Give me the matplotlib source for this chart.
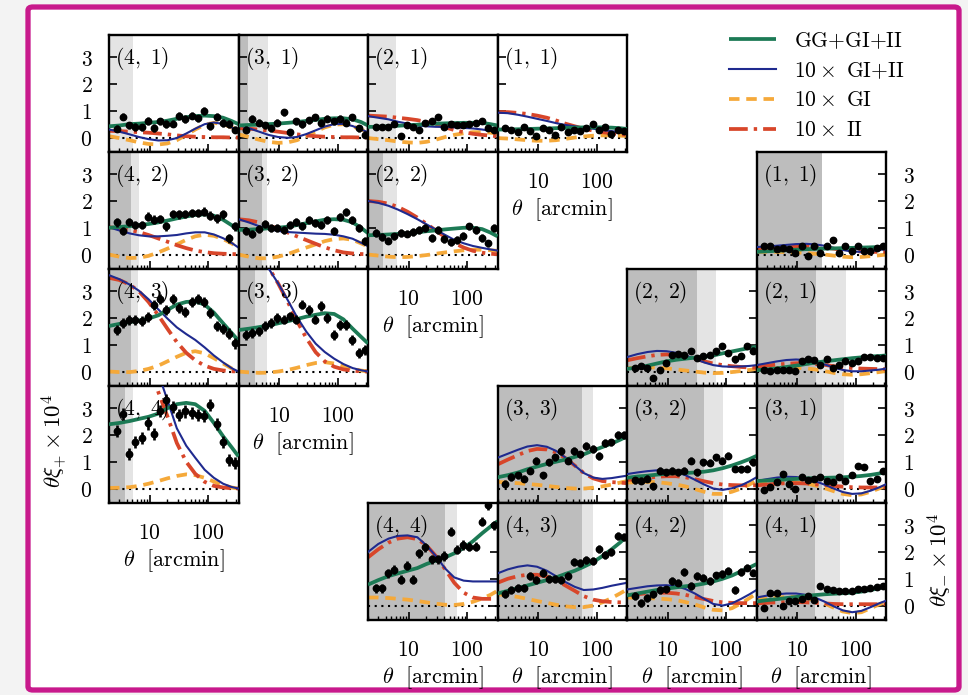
import matplotlib
matplotlib.use("Agg")
import matplotlib.pyplot as plt
from matplotlib.ticker import FixedLocator, FixedFormatter, NullFormatter, NullLocator
from matplotlib.lines import Line2D
from matplotlib.patches import FancyBboxPatch

plt.rcParams["mathtext.fontset"] = "cm"
plt.rcParams["font.family"] = ["DejaVu Serif"]

# angular bins of the measured correlation functions [arcmin]
THETA = [2.69, 3.44, 4.41, 5.64, 7.21, 9.23, 11.8, 15.1, 19.3, 24.7,
         31.6, 40.5, 51.8, 66.2, 84.7, 108, 139, 177, 227, 290]
# angular nodes of the model predictions [arcmin]
MODEL_THETA = [2.0, 3.0, 4.5, 6.5, 9.5, 14, 20, 29, 42, 60, 87, 125, 180, 250, 330]

# ---------------- xi_plus ----------------
XIP_PAIRS = [(4, 1), (3, 1), (2, 1), (1, 1), (4, 2), (3, 2), (2, 2), (4, 3), (3, 3), (4, 4)]

XIP_DATA = [
    [0.33, 0.78, 0.45, 0.4, 0.38, 0.62, 0.35, 0.6, 0.5, 0.52, 0.8, 0.7, 0.82, 0.72, 1.0, 0.42, 0.78, 0.55, 0.5, 0.3],
    [0.3, 0.7, 0.55, 0.45, 0.35, 0.55, 0.95, 0.2, 0.6, 0.5, 0.65, 0.75, 0.55, 0.7, 0.6, 0.7, 0.55, 0.75, 0.35, 0.1],
    [0.4, 0.4, 0.4, 0.5, 0.05, 0.45, 0.4, 0.3, 0.55, 0.6, 0.75, 0.4, 0.5, 0.45, 0.45, 0.5, 0.55, 0.6, 0.35, 0.3],
    [0.35, 0.3, 0.2, 0.4, 0.25, 0.05, 0.35, 0.3, 0.1, 0.4, 0.2, 0.3, 0.25, 0.35, 0.5, 0.3, 0.4, 0.15, 0.3, 0.25],
    [1.2, 0.88, 1.22, 1.1, 1.1, 1.42, 1.3, 1.32, 1.05, 1.52, 1.5, 1.52, 1.55, 1.55, 1.6, 1.45, 1.35, 1.5, 0.6, 1.05],
    [0.88, 0.78, 0.94, 1.15, 1.0, 0.98, 0.92, 1.1, 1.2, 1.08, 1.3, 1.18, 1.12, 1.3, 0.88, 1.42, 1.58, 1.3, 1.0, 0.5],
    [0.81, 0.65, 0.52, 0.68, 0.8, 0.78, 0.85, 0.92, 1.0, 0.62, 0.92, 0.58, 0.45, 0.55, 0.7, 1.05, 0.92, 0.62, 0.42, 1.0],
    [1.56, 1.82, 1.94, 1.92, 1.88, 2.05, 2.5, 2.72, 2.3, 2.7, 2.38, 2.22, 2.6, 2.72, 2.6, 2.2, 1.7, 1.6, 1.42, 1.05],
    [1.37, 1.44, 1.5, 1.69, 1.81, 2.0, 1.94, 2.06, 1.94, 2.5, 2.31, 1.94, 2.44, 2.0, 1.37, 1.75, 1.75, 1.19, 0.69, 0.81],
    [2.15, 2.78, 1.3, 1.73, 1.88, 2.43, 2.03, 2.9, 3.3, 3.05, 2.75, 2.88, 2.82, 2.75, 2.7, 3.12, 2.4, 1.73, 1.07, 0.95],
]
XIP_ERR = [0.14, 0.13, 0.11, 0.11, 0.16, 0.15, 0.14, 0.19, 0.18, 0.23]

XIP_TOTAL = [
    [0.42, 0.45, 0.5, 0.52, 0.55, 0.58, 0.63, 0.7, 0.76, 0.8, 0.82, 0.8, 0.74, 0.62, 0.5],
    [0.45, 0.47, 0.48, 0.5, 0.52, 0.55, 0.58, 0.62, 0.66, 0.7, 0.72, 0.72, 0.68, 0.58, 0.45],
    [0.4, 0.4, 0.42, 0.44, 0.46, 0.48, 0.5, 0.52, 0.53, 0.54, 0.55, 0.55, 0.55, 0.5, 0.45],
    [0.3, 0.3, 0.31, 0.32, 0.33, 0.34, 0.35, 0.36, 0.37, 0.38, 0.38, 0.38, 0.37, 0.35, 0.32],
    [1.0, 1.03, 1.06, 1.1, 1.14, 1.2, 1.27, 1.35, 1.42, 1.48, 1.5, 1.45, 1.3, 1.1, 0.9],
    [0.92, 0.93, 0.95, 0.98, 1.0, 1.04, 1.1, 1.17, 1.24, 1.3, 1.32, 1.3, 1.2, 1.0, 0.8],
    [0.72, 0.73, 0.75, 0.77, 0.8, 0.83, 0.87, 0.9, 0.94, 0.97, 1.0, 1.0, 0.95, 0.82, 0.68],
    [1.7, 1.78, 1.85, 1.9, 1.98, 2.1, 2.3, 2.5, 2.6, 2.62, 2.5, 2.2, 1.8, 1.45, 1.15],
    [1.55, 1.6, 1.66, 1.72, 1.8, 1.88, 1.96, 2.05, 2.12, 2.18, 2.15, 1.95, 1.6, 1.3, 1.05],
    [2.4, 2.45, 2.52, 2.6, 2.68, 2.8, 3.0, 3.15, 3.2, 3.15, 2.9, 2.45, 1.95, 1.55, 1.2],
]
XIP_GIII = [
    [0.3, 0.22, 0.12, 0.02, -0.06, -0.11, -0.1, -0.02, 0.15, 0.33, 0.5, 0.56, 0.51, 0.38, 0.25],
    [0.47, 0.35, 0.22, 0.1, 0.02, -0.01, 0.02, 0.13, 0.27, 0.41, 0.5, 0.51, 0.43, 0.3, 0.2],
    [0.8, 0.74, 0.68, 0.59, 0.52, 0.45, 0.42, 0.4, 0.4, 0.38, 0.36, 0.34, 0.3, 0.25, 0.2],
    [0.93, 0.91, 0.85, 0.78, 0.7, 0.62, 0.54, 0.47, 0.42, 0.37, 0.33, 0.28, 0.24, 0.2, 0.16],
    [1.02, 0.9, 0.79, 0.72, 0.68, 0.68, 0.7, 0.73, 0.79, 0.83, 0.83, 0.75, 0.61, 0.44, 0.26],
    [1.32, 1.2, 1.06, 0.96, 0.88, 0.84, 0.82, 0.8, 0.78, 0.77, 0.74, 0.68, 0.59, 0.44, 0.31],
    [2.0, 1.93, 1.82, 1.68, 1.51, 1.32, 1.13, 0.93, 0.73, 0.55, 0.42, 0.32, 0.25, 0.19, 0.15],
    [3.6, 3.45, 3.25, 3.02, 2.7, 2.32, 1.98, 1.65, 1.4, 1.18, 0.9, 0.6, 0.34, 0.13, 0.0],
    [5.5, 4.97, 4.45, 3.86, 3.3, 2.66, 2.04, 1.49, 1.04, 0.73, 0.48, 0.28, 0.13, 0.05, 0.0],
    [8.5, 7.8, 7.0, 6.2, 5.3, 4.3, 3.3, 2.25, 1.6, 1.15, 0.7, 0.4, 0.18, 0.06, 0.0],
]
XIP_GI = [
    [0.05, -0.02, -0.1, -0.18, -0.24, -0.26, -0.22, -0.1, 0.1, 0.3, 0.48, 0.55, 0.5, 0.38, 0.25],
    [0.12, 0.02, -0.08, -0.16, -0.2, -0.18, -0.1, 0.05, 0.22, 0.38, 0.48, 0.5, 0.42, 0.3, 0.2],
    [-0.02, -0.06, -0.1, -0.15, -0.18, -0.2, -0.16, -0.08, 0.02, 0.1, 0.16, 0.2, 0.2, 0.18, 0.15],
    [-0.02, -0.04, -0.07, -0.1, -0.12, -0.12, -0.1, -0.05, 0.0, 0.04, 0.07, 0.08, 0.08, 0.07, 0.06],
    [0.0, -0.08, -0.13, -0.12, -0.05, 0.08, 0.22, 0.38, 0.55, 0.68, 0.74, 0.7, 0.58, 0.42, 0.25],
    [0.0, -0.08, -0.14, -0.14, -0.08, 0.02, 0.14, 0.26, 0.38, 0.5, 0.58, 0.6, 0.55, 0.42, 0.3],
    [0.0, -0.04, -0.08, -0.1, -0.09, -0.06, -0.02, 0.03, 0.08, 0.12, 0.16, 0.18, 0.18, 0.16, 0.14],
    [0.0, -0.02, -0.02, 0.02, 0.1, 0.22, 0.38, 0.55, 0.7, 0.76, 0.68, 0.5, 0.3, 0.12, 0.0],
    [0.0, -0.03, -0.05, -0.04, 0.0, 0.06, 0.14, 0.24, 0.32, 0.35, 0.3, 0.2, 0.1, 0.04, 0.0],
    [0.02, 0.03, 0.05, 0.1, 0.18, 0.28, 0.38, 0.47, 0.53, 0.5, 0.4, 0.26, 0.13, 0.04, 0.0],
]
XIP_II = [
    [0.25, 0.24, 0.22, 0.2, 0.18, 0.15, 0.12, 0.08, 0.05, 0.03, 0.02, 0.01, 0.01, 0.0, 0.0],
    [0.35, 0.33, 0.3, 0.26, 0.22, 0.17, 0.12, 0.08, 0.05, 0.03, 0.02, 0.01, 0.01, 0.0, 0.0],
    [0.82, 0.8, 0.78, 0.74, 0.7, 0.65, 0.58, 0.48, 0.38, 0.28, 0.2, 0.14, 0.1, 0.07, 0.05],
    [0.95, 0.95, 0.92, 0.88, 0.82, 0.74, 0.64, 0.52, 0.42, 0.33, 0.26, 0.2, 0.16, 0.13, 0.1],
    [1.02, 0.98, 0.92, 0.84, 0.73, 0.6, 0.48, 0.35, 0.24, 0.15, 0.09, 0.05, 0.03, 0.02, 0.01],
    [1.32, 1.28, 1.2, 1.1, 0.96, 0.82, 0.68, 0.54, 0.4, 0.27, 0.16, 0.08, 0.04, 0.02, 0.01],
    [2.0, 1.97, 1.9, 1.78, 1.6, 1.38, 1.15, 0.9, 0.65, 0.43, 0.26, 0.14, 0.07, 0.03, 0.01],
    [3.5, 3.42, 3.25, 3.0, 2.6, 2.1, 1.6, 1.1, 0.7, 0.42, 0.22, 0.1, 0.04, 0.01, 0.0],
    [5.5, 5.0, 4.5, 3.9, 3.3, 2.6, 1.9, 1.25, 0.72, 0.38, 0.18, 0.08, 0.03, 0.01, 0.0],
    [8.0, 7.4, 6.6, 5.7, 4.7, 3.6, 2.7, 1.7, 1.0, 0.55, 0.25, 0.1, 0.04, 0.01, 0.0],
]
# excluded small scales: darker / lighter band upper edges [arcmin]
XIP_DARK = [2.0, 2.95, 2.0, 2.0, 4.7, 5.0, 3.6, 4.7, 3.9, 3.7]
XIP_LIGHT = [5.1, 6.4, 6.0, 2.0, 6.4, 6.2, 6.2, 6.2, 6.2, 5.1]

# ---------------- xi_minus ----------------
XIM_PAIRS = [(1, 1), (2, 2), (2, 1), (3, 3), (3, 2), (3, 1), (4, 4), (4, 3), (4, 2), (4, 1)]

XIM_DATA = [
    [0.31, 0.31, 0.19, 0.25, 0.19, 0.06, 0.31, -0.06, 0.31, 0.06, 0.31, 0.56, 0.06, 0.31, 0.12, 0.31, 0.12, 0.12, 0.25, 0.31],
    [0.13, 0.2, 0.13, -0.25, 0.05, 0.32, 0.62, 0.65, 0.6, 0.77, 0.5, 0.58, 0.62, 0.75, 0.95, 0.7, 0.45, 0.58, 0.95, 0.78],
    [0.06, 0.03, 0.06, 0.06, 0.06, 0.03, 0.38, 0.45, 0.42, 0.26, 0.45, 0.15, 0.26, 0.38, 0.32, 0.38, 0.55, 0.55, 0.5, 0.52],
    [0.18, 0.43, 0.49, 0.37, 0.67, 1.04, 0.49, 0.98, 1.16, 1.4, 1.04, 1.4, 1.28, 1.59, 1.47, 1.22, 1.71, 1.72, 2.0, 2.0],
    [0.31, 0.3, 0.37, 0.09, 0.67, 0.61, 0.67, 0.61, 0.66, 1.04, 0.61, 0.98, 0.97, 1.16, 1.04, 1.22, 0.73, 0.72, 0.74, 0.98],
    [-0.06, 0.06, 0.24, 0.55, 0.18, 0.0, 0.43, 0.31, 0.37, 0.42, 0.3, 0.25, 0.43, 0.3, 0.49, 0.86, 0.8, 0.3, 0.36, 0.67],
    [0.65, 0.65, 1.2, 1.33, 0.96, 1.48, 0.96, 1.95, 2.18, 1.72, 1.73, 1.85, 2.76, 2.08, 2.26, 2.2, 2.2, 3.13, 3.75, 3.0],
    [0.44, 0.58, 0.65, 0.65, 1.1, 0.96, 1.23, 0.98, 0.98, 0.96, 1.1, 1.64, 1.58, 1.7, 1.68, 2.1, 1.89, 2.0, 2.6, 2.57],
    [0.35, 0.1, 0.29, 0.42, 0.58, 0.6, 0.92, 0.86, 1.26, 0.73, 1.1, 1.04, 0.92, 1.13, 1.17, 1.3, 0.58, 1.26, 1.42, 1.23],
    [-0.09, 0.48, 0.46, -0.03, 0.16, 0.16, 0.23, 0.35, 0.22, 0.73, 0.6, 0.58, 0.54, 0.55, 0.54, 0.6, 0.6, 0.67, 0.68, 0.73],
]
XIM_ERR = [0.11, 0.12, 0.1, 0.14, 0.13, 0.11, 0.17, 0.15, 0.14, 0.11]

XIM_TOTAL = [
    [0.1, 0.12, 0.14, 0.16, 0.18, 0.2, 0.21, 0.22, 0.23, 0.24, 0.25, 0.26, 0.27, 0.28, 0.29],
    [0.1, 0.15, 0.22, 0.3, 0.38, 0.44, 0.48, 0.52, 0.55, 0.6, 0.68, 0.75, 0.82, 0.88, 0.92],
    [0.05, 0.08, 0.12, 0.17, 0.22, 0.28, 0.33, 0.38, 0.42, 0.46, 0.5, 0.53, 0.56, 0.58, 0.6],
    [0.42, 0.5, 0.6, 0.72, 0.82, 0.92, 1.0, 1.08, 1.18, 1.28, 1.42, 1.55, 1.68, 1.82, 1.95],
    [0.4, 0.45, 0.48, 0.52, 0.55, 0.57, 0.58, 0.6, 0.63, 0.68, 0.76, 0.86, 0.98, 1.1, 1.22],
    [0.28, 0.3, 0.32, 0.34, 0.36, 0.38, 0.39, 0.4, 0.41, 0.42, 0.44, 0.47, 0.51, 0.56, 0.62],
    [0.78, 0.95, 1.1, 1.2, 1.3, 1.4, 1.55, 1.68, 1.8, 1.95, 2.15, 2.4, 2.7, 2.95, 3.15],
    [0.45, 0.55, 0.65, 0.75, 0.85, 0.95, 1.05, 1.18, 1.3, 1.45, 1.62, 1.85, 2.1, 2.35, 2.6],
    [0.38, 0.45, 0.52, 0.58, 0.63, 0.68, 0.72, 0.76, 0.82, 0.9, 1.0, 1.12, 1.28, 1.42, 1.55],
    [0.15, 0.2, 0.24, 0.28, 0.32, 0.36, 0.39, 0.42, 0.44, 0.46, 0.48, 0.52, 0.58, 0.65, 0.72],
]
XIM_GIII = [
    [0.28, 0.3, 0.33, 0.36, 0.39, 0.4, 0.38, 0.33, 0.25, 0.17, 0.11, 0.1, 0.13, 0.17, 0.2],
    [0.54, 0.65, 0.73, 0.77, 0.76, 0.7, 0.6, 0.48, 0.34, 0.24, 0.19, 0.18, 0.19, 0.21, 0.24],
    [0.24, 0.31, 0.38, 0.43, 0.45, 0.43, 0.37, 0.27, 0.15, 0.06, 0.01, 0.01, 0.04, 0.07, 0.11],
    [1.15, 1.3, 1.45, 1.57, 1.62, 1.56, 1.41, 1.16, 0.86, 0.58, 0.41, 0.36, 0.39, 0.44, 0.48],
    [0.54, 0.6, 0.65, 0.68, 0.66, 0.61, 0.5, 0.33, 0.15, 0.0, -0.05, 0.01, 0.12, 0.27, 0.42],
    [0.28, 0.35, 0.41, 0.44, 0.43, 0.38, 0.28, 0.15, 0.0, -0.13, -0.2, -0.18, -0.08, 0.04, 0.16],
    [2.0, 2.3, 2.5, 2.6, 2.62, 2.55, 2.25, 1.85, 1.38, 1.05, 0.93, 0.9, 0.9, 0.9, 0.9],
    [1.2, 1.35, 1.45, 1.5, 1.45, 1.3, 1.1, 0.88, 0.7, 0.58, 0.6, 0.66, 0.74, 0.8, 0.85],
    [0.6, 0.66, 0.72, 0.75, 0.76, 0.72, 0.62, 0.45, 0.25, 0.06, 0.0, 0.08, 0.25, 0.42, 0.58],
    [0.3, 0.37, 0.42, 0.45, 0.45, 0.4, 0.3, 0.15, -0.03, -0.18, -0.25, -0.2, -0.06, 0.08, 0.18],
]
XIM_GI = [
    [0.1, 0.1, 0.1, 0.09, 0.08, 0.06, 0.03, 0.0, -0.04, -0.08, -0.1, -0.09, -0.06, -0.03, 0.0],
    [0.12, 0.15, 0.16, 0.15, 0.12, 0.08, 0.04, 0.0, -0.04, -0.06, -0.05, -0.02, 0.02, 0.06, 0.1],
    [0.06, 0.09, 0.12, 0.14, 0.14, 0.12, 0.08, 0.02, -0.05, -0.1, -0.12, -0.1, -0.06, -0.02, 0.02],
    [0.25, 0.22, 0.2, 0.17, 0.14, 0.1, 0.06, 0.02, 0.0, 0.0, 0.03, 0.08, 0.15, 0.22, 0.28],
    [0.22, 0.24, 0.25, 0.24, 0.2, 0.15, 0.08, -0.02, -0.12, -0.2, -0.2, -0.12, 0.0, 0.15, 0.3],
    [0.16, 0.2, 0.23, 0.24, 0.23, 0.19, 0.12, 0.02, -0.1, -0.2, -0.25, -0.22, -0.12, 0.0, 0.12],
    [0.3, 0.3, 0.28, 0.25, 0.22, 0.17, 0.12, 0.07, 0.03, 0.02, 0.06, 0.14, 0.26, 0.4, 0.55],
    [0.42, 0.38, 0.32, 0.25, 0.17, 0.1, 0.03, -0.03, -0.06, -0.06, 0.0, 0.12, 0.28, 0.45, 0.6],
    [0.3, 0.3, 0.28, 0.26, 0.24, 0.2, 0.13, 0.04, -0.07, -0.16, -0.18, -0.1, 0.08, 0.28, 0.45],
    [0.22, 0.27, 0.3, 0.32, 0.32, 0.28, 0.2, 0.08, -0.08, -0.22, -0.28, -0.25, -0.1, 0.04, 0.14],
]
XIM_II = [
    [0.18, 0.21, 0.24, 0.27, 0.29, 0.3, 0.29, 0.26, 0.22, 0.17, 0.13, 0.11, 0.1, 0.1, 0.1],
    [0.42, 0.5, 0.57, 0.62, 0.64, 0.62, 0.56, 0.48, 0.38, 0.3, 0.24, 0.2, 0.17, 0.15, 0.14],
    [0.18, 0.22, 0.26, 0.29, 0.31, 0.31, 0.29, 0.25, 0.2, 0.16, 0.13, 0.11, 0.1, 0.09, 0.09],
    [0.9, 1.08, 1.25, 1.4, 1.48, 1.46, 1.35, 1.14, 0.86, 0.58, 0.38, 0.28, 0.24, 0.22, 0.2],
    [0.32, 0.36, 0.4, 0.44, 0.46, 0.46, 0.42, 0.35, 0.27, 0.2, 0.15, 0.13, 0.12, 0.12, 0.12],
    [0.12, 0.15, 0.18, 0.2, 0.2, 0.19, 0.16, 0.13, 0.1, 0.07, 0.05, 0.04, 0.04, 0.04, 0.04],
    [1.8, 2.1, 2.35, 2.5, 2.55, 2.48, 2.25, 1.85, 1.35, 0.85, 0.48, 0.3, 0.25, 0.25, 0.25],
    [0.85, 1.0, 1.1, 1.15, 1.15, 1.08, 0.95, 0.75, 0.55, 0.35, 0.22, 0.16, 0.13, 0.12, 0.12],
    [0.38, 0.42, 0.46, 0.48, 0.48, 0.45, 0.4, 0.32, 0.24, 0.17, 0.12, 0.1, 0.09, 0.09, 0.09],
    [0.08, 0.1, 0.12, 0.13, 0.13, 0.12, 0.1, 0.08, 0.06, 0.05, 0.05, 0.05, 0.05, 0.05, 0.05],
]
XIM_DARK = [26, 32, 21, 55, 42, 26, 42, 55, 42, 20]
XIM_LIGHT = [26, 68, 68, 88, 88, 64, 68, 88, 88, 53]

LEGEND_LABELS = [r"$\mathrm{GG{+}GI{+}II}$", r"$10\times\ \mathrm{GI{+}II}$",
                 r"$10\times\ \mathrm{GI}$", r"$10\times\ \mathrm{II}$"]

# ---------------- styling ----------------
GREEN = "#1c7a55"
BLUE = "#1f2a8f"
ORANGE = "#f5a93a"
RED = "#d8462a"
DARK_BAND = "#bdbdbd"
LIGHT_BAND = "#e4e4e4"
TICK_SIZE = 15.5
LABEL_SIZE = 16

FIG_W, FIG_H = 968, 695
X0, Y0, W, H = 109.0, 35.0, 129.5, 117.0
XLIM = (2.0, 330.0)
YLIM = (-0.54, 3.83)

fig = plt.figure(figsize=(FIG_W / 100, FIG_H / 100), dpi=100)
fig.patch.set_facecolor("#f3f3f3")
card = FancyBboxPatch((28 / FIG_W, 1 - 690 / FIG_H), (959 - 28) / FIG_W, (690 - 7) / FIG_H,
                      boxstyle="round,pad=0,rounding_size=0.005", transform=fig.transFigure,
                      facecolor="white", edgecolor="#c8198c", linewidth=3.8, zorder=-10)
fig.add_artist(card)

STYLE_TOTAL = dict(color=GREEN, lw=2.7, solid_capstyle="butt")
STYLE_GIII = dict(color=BLUE, lw=1.5)
STYLE_GI = dict(color=ORANGE, lw=2.7, ls=(0, (2.8, 1.8)))
STYLE_II = dict(color=RED, lw=2.7, ls=(0, (5, 1.6, 0.9, 1.6)))


def panel(row, col):
    return fig.add_axes([(X0 + col * W) / FIG_W, 1 - (Y0 + (row + 1) * H) / FIG_H,
                         W / FIG_W, H / FIG_H])


def draw(ax, pair, data, err, total, giii, gi, ii, dark, light, left_side, bottom, edge_labels):
    ax.set_xscale("log")
    ax.set_xlim(*XLIM)
    ax.set_ylim(*YLIM)
    if light > XLIM[0]:
        ax.axvspan(XLIM[0], light, color=LIGHT_BAND, lw=0, zorder=0)
    if dark > XLIM[0]:
        ax.axvspan(XLIM[0], dark, color=DARK_BAND, lw=0, zorder=0)
    ax.axhline(0, color="k", lw=1.5, ls=(0, (1, 2.2)), zorder=1)
    ax.plot(MODEL_THETA, gi, zorder=2, **STYLE_GI)
    ax.plot(MODEL_THETA, ii, zorder=2, **STYLE_II)
    ax.plot(MODEL_THETA, giii, zorder=3, **STYLE_GIII)
    ax.plot(MODEL_THETA, total, zorder=4, **STYLE_TOTAL)
    ax.errorbar(THETA, data, yerr=err, fmt="o", ms=4.6, color="k", mec="k",
                elinewidth=1.9, capsize=0, zorder=5)
    ax.text(0.05, 0.80, r"$\mathrm{(%d,\ %d)}$" % pair, transform=ax.transAxes,
            fontsize=15.5, ha="left", va="center", zorder=6)

    for s in ax.spines.values():
        s.set_linewidth(1.7)
    ax.xaxis.set_major_locator(FixedLocator([10, 100]))
    ax.xaxis.set_minor_locator(FixedLocator([2, 3, 4, 5, 6, 7, 8, 9, 20, 30, 40, 50,
                                             60, 70, 80, 90, 200, 300]))
    ax.xaxis.set_minor_formatter(NullFormatter())
    if bottom:
        ax.xaxis.set_major_formatter(FixedFormatter([r"$10$", r"$100$"]))
        ax.set_xlabel(r"$\theta\ \ [\mathrm{arcmin}]$", fontsize=LABEL_SIZE, labelpad=2)
    else:
        ax.xaxis.set_major_formatter(NullFormatter())
    ax.tick_params(axis="x", which="both", direction="in", top=False, bottom=True,
                   labelsize=TICK_SIZE, pad=14)
    ax.tick_params(axis="x", which="major", length=6, width=1.2)
    ax.tick_params(axis="x", which="minor", length=3, width=1.0)

    ax.yaxis.set_major_locator(FixedLocator([0, 1, 2, 3]))
    ax.yaxis.set_minor_locator(NullLocator())
    ax.yaxis.set_major_formatter(FixedFormatter([r"$0$", r"$1$", r"$2$", r"$3$"]))
    ax.tick_params(axis="y", direction="in", length=6, width=1.2, labelsize=TICK_SIZE, pad=12,
                   left=left_side, right=not left_side,
                   labelleft=left_side and edge_labels,
                   labelright=(not left_side) and edge_labels)


for k, (i, j) in enumerate(XIP_PAIRS):
    ax = panel(j - 1, 4 - i)
    draw(ax, (i, j), XIP_DATA[k], XIP_ERR[k], XIP_TOTAL[k], XIP_GIII[k], XIP_GI[k],
         XIP_II[k], XIP_DARK[k], XIP_LIGHT[k], True, i == j, i == 4)

for k, (i, j) in enumerate(XIM_PAIRS):
    ax = panel(i, 6 - j)
    draw(ax, (i, j), XIM_DATA[k], XIM_ERR[k], XIM_TOTAL[k], XIM_GIII[k], XIM_GI[k],
         XIM_II[k], XIM_DARK[k], XIM_LIGHT[k], False, i == 4, j == 1)

fig.text(55 / FIG_W, 1 - 441 / FIG_H, r"$\theta\xi_{+}\times10^{4}$", rotation=90,
         fontsize=16.5, ha="center", va="center")
fig.text(940 / FIG_W, 1 - 560 / FIG_H, r"$\theta\xi_{-}\times10^{4}$", rotation=90,
         fontsize=16.5, ha="center", va="center")

handles = [Line2D([], [], **STYLE_TOTAL), Line2D([], [], **STYLE_GIII),
           Line2D([], [], **STYLE_GI), Line2D([], [], **STYLE_II)]
fig.legend(handles, LEGEND_LABELS, loc="upper left",
           bbox_to_anchor=(729 / FIG_W, 1 - 30 / FIG_H), frameon=False, fontsize=15.5,
           handlelength=2.2, handletextpad=0.8, labelspacing=0.36,
           borderpad=0, borderaxespad=0)

fig.savefig("out.png", dpi=100, facecolor=fig.get_facecolor())
